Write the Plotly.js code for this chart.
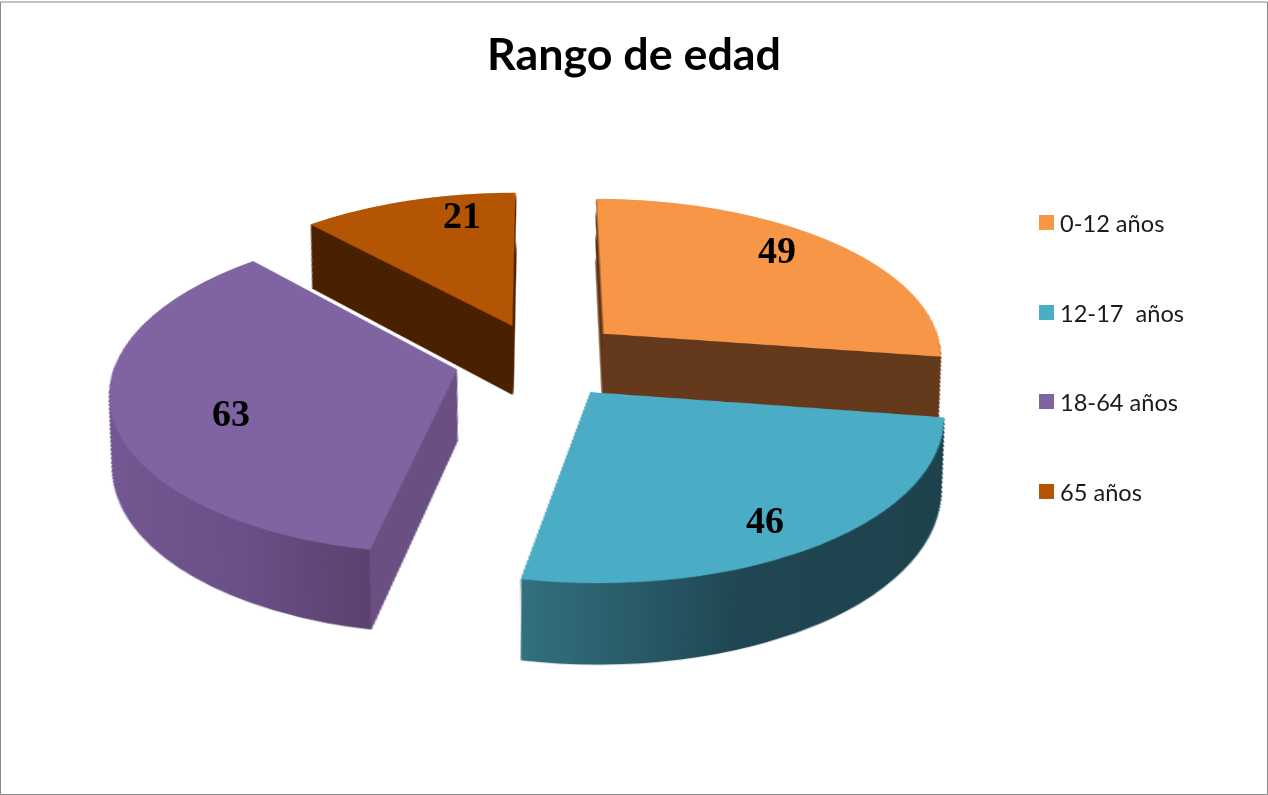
<!DOCTYPE html>
<html><head><meta charset="utf-8">
<script src="https://cdn.plot.ly/plotly-3.0.1.min.js"></script>
<style>html,body{margin:0;padding:0;background:#fff;overflow:hidden}#gd{width:1268px;height:795px}</style>
</head><body><div id="gd"></div>
<script>
const categories = ['0-12 años', '12-17  años', '18-64 años', '65 años'];
const edades = [49, 46, 63, 21];
const topColors = ['#F69646', '#4BACC6', '#8064A2', '#B45504'];
const wallColors = ['#653A1C', '#25505C', '#644A7E', '#4A2200'];
const pulls = [0.25, 0.25, 0.25, 0.23];
const labelX = [777, 765, 231, 462];
const labelY = [250, 520, 413, 215];
const legendRowY = [222.5, 312.5, 401.5, 491.5];

const W = 1268, H = 795, D = 600, centerY = 310, step = 1.272, layers = 80, shrink = 0.06;
function pieTrace(k, colors, isTop) {
  const size = D * (1 - shrink * k / layers);
  const cy = centerY + k * step;
  return {
    type: 'pie', labels: categories, values: edades, sort: false, direction: 'clockwise', rotation: 0,
    pull: pulls, textinfo: 'none', hoverinfo: 'label+value', showlegend: isTop,
    domain: {x: [0, 1], y: [1 - (cy + size / 2) / H, 1 - (cy - size / 2) / H]},
    marker: {colors: colors, line: {width: 0}}
  };
}
const data = [];
for (let k = layers; k >= 1; k--) data.push(pieTrace(k, wallColors, false));
data.push(pieTrace(0, topColors, true));

const layout = {
  width: W, height: H, margin: {l: 0, r: 0, t: 0, b: 0},
  paper_bgcolor: 'rgba(0,0,0,0)', showlegend: true,
  title: {text: 'Rango de edad', font: {family: 'Lato', size: 44.8, color: '#000', weight: 700}, x: 0.5, xanchor: 'center', y: 0.932, yanchor: 'middle'},
  legend: {font: {family: 'Lato', size: 23.6, color: '#1a1a1a'}, x: 0.81, y: 0.7, xanchor: 'left', yanchor: 'top', bgcolor: 'rgba(0,0,0,0)', traceorder: 'normal'},
  annotations: edades.map((v, i) => ({
    text: '<b>' + v + '</b>', xref: 'paper', yref: 'paper', x: labelX[i] / W, y: 1 - labelY[i] / H, showarrow: false,
    xanchor: 'center', yanchor: 'middle', font: {family: 'Liberation Serif', size: 38, color: '#000'}
  })),
  shapes: [{type: 'rect', xref: 'paper', yref: 'paper', x0: 0.0004, x1: 0.9996, y0: 0.0006, y1: 0.9975, line: {color: '#8a8a8a', width: 1}}]
};

Plotly.newPlot('gd', data, layout, {displayModeBar: false, staticPlot: true}).then(function () {
  const gd = document.getElementById('gd');
  const paper = gd.querySelector('.main-svg');
  // tilt the pies into perspective
  paper.style.transformOrigin = '634px 310px';
  paper.style.transform = 'translate(-94px, 49px) perspective(2394px) rotateX(62.4deg) scale(1.42)';
  // wall shading
  const NS = 'http://www.w3.org/2000/svg';
  const defs = document.createElementNS(NS, 'defs');
  function grad(id, stops) {
    const g = document.createElementNS(NS, 'linearGradient');
    g.setAttribute('id', id);
    stops.forEach(s => {
      const e = document.createElementNS(NS, 'stop');
      e.setAttribute('offset', s[0]); e.setAttribute('stop-color', s[1]); g.appendChild(e);
    });
    defs.appendChild(g);
  }
  grad('gBlue', [[0, '#33707F'], [0.47, '#1F4652'], [1, '#1D424C']]);
  grad('gPurple', [[0, '#735893'], [0.45, '#6A5088'], [0.805, '#5A416E'], [0.808, '#6A5082'], [1, '#6A5082']]);
  paper.insertBefore(defs, paper.firstChild);
  const traces = gd.querySelectorAll('.pielayer .trace');
  traces.forEach((t, i) => {
    if (i === traces.length - 1) return;
    const paths = t.querySelectorAll('.slice path.surface');
    if (paths[1]) paths[1].style.fill = 'url(#gBlue)';
    if (paths[2]) paths[2].style.fill = 'url(#gPurple)';
  });
  // legend rows
  const leg = gd.querySelector('.legend');
  leg.setAttribute('transform', 'translate(1019,0)');
  const box = leg.querySelector('.scrollbox');
  if (box) { box.removeAttribute('clip-path'); box.setAttribute('transform', 'translate(0,0)'); }
  gd.querySelectorAll('.legend .traces').forEach((t, i) => {
    t.setAttribute('transform', 'translate(0,' + legendRowY[i] + ')');
    const sym = t.querySelector('.legendpie');
    if (sym) sym.setAttribute('transform', 'translate(27.5,0) scale(1.25)');
    const txt = t.querySelector('.legendtext');
    if (txt) txt.setAttribute('x', 41);
  });
});
</script>
</body></html>
